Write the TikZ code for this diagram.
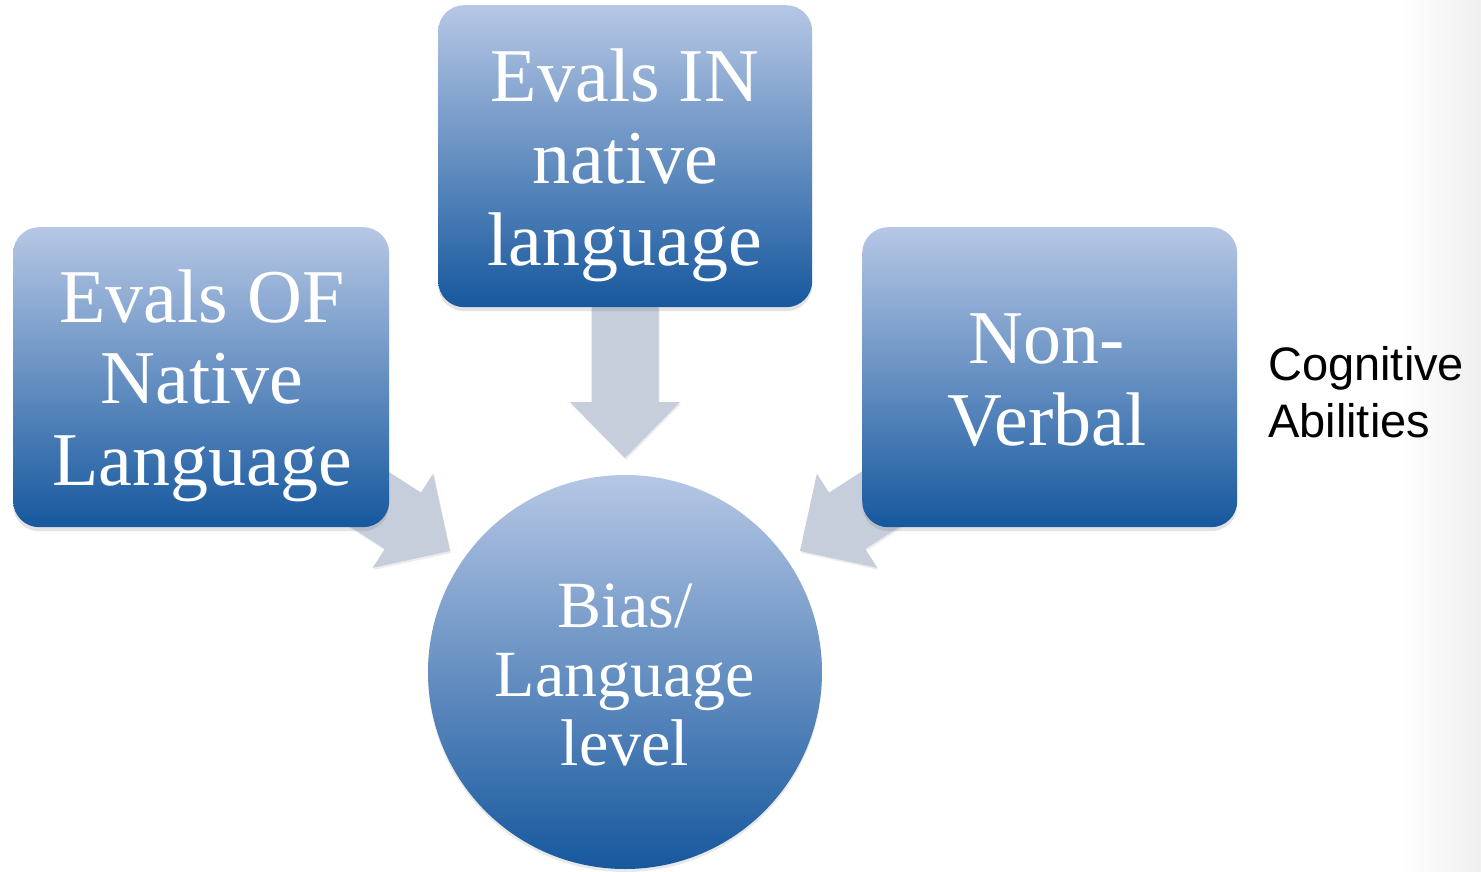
\documentclass[tikz,border=0pt]{standalone}
\usepackage{fontspec}
\newfontfamily\serifbox{Liberation Serif}
\newfontfamily\sansnote{Liberation Sans}
\usetikzlibrary{shadows}
\definecolor{boxtop}{RGB}{182,199,229}
\definecolor{boxbot}{RGB}{22,88,158}
\definecolor{arrowfill}{RGB}{198,205,219}
\definecolor{arrowtop}{RGB}{206,212,225}
\tikzset{
  panel/.style={rectangle, rounded corners=26pt, top color=boxtop, bottom color=boxbot,
    draw=none, inner sep=0pt, anchor=north west,
    drop shadow={opacity=0.22, shadow xshift=0pt, shadow yshift=-4pt}},
  hub/.style={circle, top color=boxtop, bottom color=boxbot, draw=none, inner sep=0pt,
    drop shadow={opacity=0.18, shadow xshift=0pt, shadow yshift=-3pt}},
  boxtxt/.style={font=\serifbox\fontsize{76}{82}\selectfont, text=white, inner sep=0pt, anchor=base},
  hubtxt/.style={font=\serifbox\fontsize{66}{69}\selectfont, text=white, inner sep=0pt, anchor=base},
  notetxt/.style={font=\sansnote\fontsize{47}{57}\selectfont, text=black, inner sep=0pt, anchor=base west},
  blockarrow/.style={fill=arrowfill, draw=none,
    drop shadow={opacity=0.15, shadow xshift=1pt, shadow yshift=-2pt}}
}
\begin{document}
\begin{tikzpicture}[x=1pt,y=-1pt]
\useasboundingbox (0,0) rectangle (1481,872);
\fill[white] (0,0) rectangle (1481,872);
\shade[left color=white, right color=black!6] (1400,0) rectangle (1481,872);

% block arrows (behind the boxes)
\begin{scope}[shift={(625,458)}, rotate=-90]
  \path[blockarrow] (0,0) -- (-56,55) -- (-56,33.5) -- (-152,33.5) -- (-152,-33.5) -- (-56,-33.5) -- (-56,-55) -- cycle;
\end{scope}
\begin{scope}[shift={(450,551)}, rotate=-32.7]
  \path[blockarrow] (0,0) -- (-56,56) -- (-56,33.5) -- (-230,33.5) -- (-230,-33.5) -- (-56,-33.5) -- (-56,-56) -- cycle;
\end{scope}
\begin{scope}[shift={(800,551)}, rotate=212.7]
  \path[blockarrow] (0,0) -- (-56,56) -- (-56,33.5) -- (-230,33.5) -- (-230,-33.5) -- (-56,-33.5) -- (-56,-56) -- cycle;
\end{scope}

% boxes
\node[panel, minimum width=374pt, minimum height=302pt] (bIN) at (438,5) {};
\node[panel, minimum width=376pt, minimum height=300pt] (bOF) at (13,227) {};
\node[panel, minimum width=375pt, minimum height=300pt] (bNV) at (862,227) {};
\node[hub, minimum size=394pt] (bias) at (625,672) {};

% box texts
\node[boxtxt] (in1) at (625,102) {Evals IN};
\node[boxtxt] (in2) at (625,183) {native};
\node[boxtxt] (in3) at (625,265) {language};

\node[boxtxt] (of1) at (202,322) {Evals OF};
\node[boxtxt] (of2) at (202,403) {Native};
\node[boxtxt] (of3) at (202,485) {Language};

\node[boxtxt] (nv1) at (1047,363) {Non-};
\node[boxtxt] (nv2) at (1047,445) {Verbal};

\node[hubtxt] (bi1) at (625,627) {Bias/};
\node[hubtxt] (bi2) at (625,696) {Language};
\node[hubtxt] (bi3) at (625,765) {level};

% side note
\node[notetxt] (cog1) at (1268,380) {Cognitive};
\node[notetxt] (cog2) at (1268,437) {Abilities};
\end{tikzpicture}
\end{document}
